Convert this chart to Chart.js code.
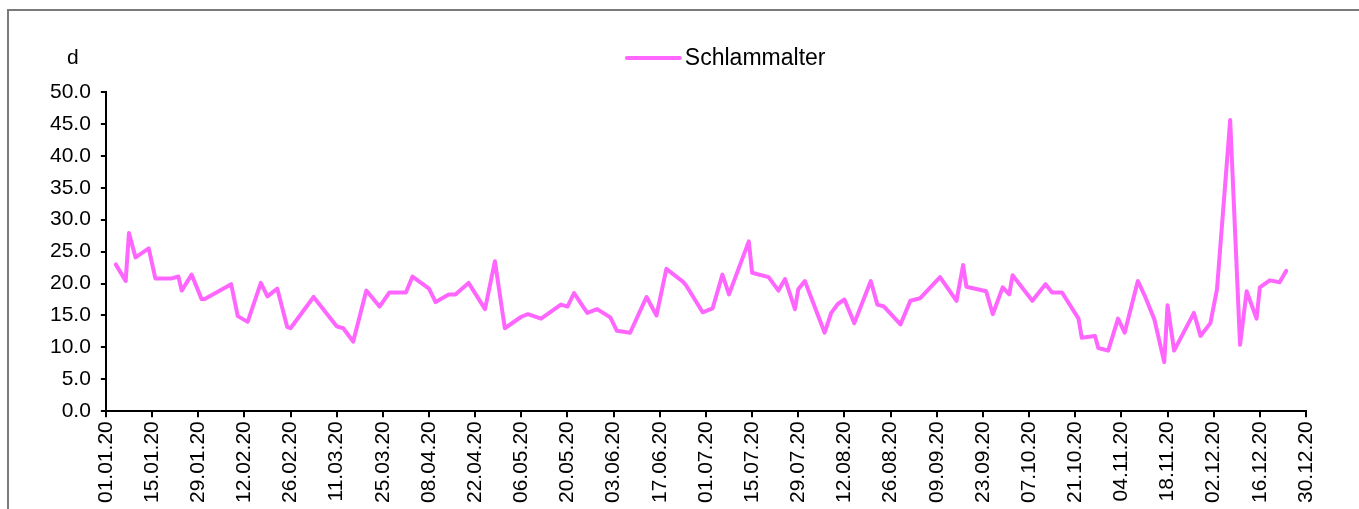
<!DOCTYPE html>
<html>
<head>
<meta charset="utf-8">
<script src="https://cdn.jsdelivr.net/npm/chart.js@4"></script>
<style>
  html, body { margin: 0; padding: 0; background: #fff; overflow: hidden; }
  #frame { position: absolute; left: 7px; top: 9px; width: 1360px; height: 520px; border: 2px solid #7a7a7a; }
  #result { position: absolute; left: 0; top: 0; }
</style>
</head>
<body>
<div id="frame"></div>
<canvas id="result" width="1359" height="509"></canvas>
<script>
// sampling dates (2020) and sludge age in days
const dates = [
  '04.01', '07.01', '08.01', '10.01', '14.01', '16.01', '21.01', '23.01', '24.01', '27.01',
  '30.01', '31.01', '08.02', '10.02', '13.02', '17.02', '19.02', '22.02', '25.02', '26.02',
  '04.03', '11.03', '13.03', '16.03', '20.03', '24.03', '27.03', '01.04', '03.04', '08.04',
  '10.04', '14.04', '16.04', '20.04', '25.04', '28.04', '01.05', '06.05', '08.05', '12.05',
  '18.05', '20.05', '22.05', '26.05', '29.05', '02.06', '04.06', '08.06', '13.06', '16.06',
  '19.06', '24.06', '25.06', '30.06', '03.07', '06.07', '08.07', '14.07', '15.07', '20.07',
  '23.07', '25.07', '28.07', '29.07', '31.07', '06.08', '08.08', '10.08', '12.08', '15.08',
  '20.08', '22.08', '24.08', '29.08', '01.09', '04.09', '10.09', '15.09', '17.09', '18.09',
  '24.09', '26.09', '29.09', '01.10', '02.10', '08.10', '12.10', '14.10', '17.10', '22.10',
  '23.10', '27.10', '28.10', '31.10', '03.11', '05.11', '09.11', '11.11', '14.11', '17.11',
  '18.11', '20.11', '26.11', '28.11', '01.12', '03.12', '07.12', '10.12', '12.12', '15.12',
  '16.12', '19.12', '22.12', '24.12'
]
const schlammalter = [
  23.0, 20.4, 27.9, 24.1, 25.5, 20.8, 20.8, 21.1, 18.9, 21.4,
  17.6, 17.6, 19.9, 14.9, 14.0, 20.1, 18.0, 19.2, 13.2, 13.0,
  17.9, 13.3, 13.0, 10.9, 18.9, 16.4, 18.6, 18.6, 21.1, 19.2,
  17.1, 18.3, 18.3, 20.1, 16.0, 23.5, 13.0, 14.8, 15.2, 14.5,
  16.7, 16.4, 18.5, 15.4, 16.0, 14.7, 12.6, 12.3, 17.9, 15.0,
  22.3, 20.3, 19.7, 15.5, 16.1, 21.4, 18.3, 26.6, 21.7, 21.0,
  18.9, 20.7, 16.0, 19.1, 20.4, 12.3, 15.4, 16.8, 17.5, 13.8,
  20.4, 16.7, 16.4, 13.6, 17.3, 17.7, 21.0, 17.3, 22.9, 19.5,
  18.8, 15.2, 19.4, 18.3, 21.3, 17.3, 19.9, 18.6, 18.6, 14.5,
  11.5, 11.8, 9.9, 9.5, 14.5, 12.3, 20.4, 18.2, 14.4, 7.7,
  16.6, 9.5, 15.4, 11.8, 13.8, 19.1, 45.6, 10.4, 18.8, 14.5,
  19.4, 20.5, 20.2, 22.0
]
const xTickLabels = [
  '01.01.20', '15.01.20', '29.01.20', '12.02.20', '26.02.20', '11.03.20', '25.03.20',
  '08.04.20', '22.04.20', '06.05.20', '20.05.20', '03.06.20', '17.06.20', '01.07.20',
  '15.07.20', '29.07.20', '12.08.20', '26.08.20', '09.09.20', '23.09.20', '07.10.20',
  '21.10.20', '04.11.20', '18.11.20', '02.12.20', '16.12.20', '30.12.20'
]

const pink = '#ff66ff'
const font = { family: "'Liberation Sans', Arial, sans-serif", size: 21 }

// day number counted from 01.01.2020
function dayOf (s) {
  const p = s.split('.')
  return (Date.UTC(2020, +p[1] - 1, +p[0]) - Date.UTC(2020, 0, 1)) / 86400000
}

const tickDays = xTickLabels.map(dayOf)
const points = dates.map((d, i) => ({ x: dayOf(d), y: schlammalter[i] }))

const extras = {
  id: 'extras',
  afterDraw (chart) {
    const ctx = chart.ctx
    const a = chart.chartArea
    ctx.save()
    ctx.font = "21px 'Liberation Sans', Arial, sans-serif"
    ctx.fillStyle = '#000'
    ctx.textBaseline = 'middle'
    ctx.textAlign = 'center'
    ctx.fillText('d', a.left - 33, a.top - 34)
    // legend
    ctx.strokeStyle = pink
    ctx.lineWidth = 4
    ctx.lineCap = 'round'
    ctx.beginPath()
    ctx.moveTo(a.left + 521, a.top - 34)
    ctx.lineTo(a.left + 574, a.top - 34)
    ctx.stroke()
    ctx.font = "23px 'Liberation Sans', Arial, sans-serif"
    ctx.textAlign = 'left'
    ctx.fillText(chart.data.datasets[0].label, a.left + 579, a.top - 33)
    ctx.restore()
  }
}

new Chart(document.getElementById('result').getContext('2d'), {
  type: 'line',
  data: {
    datasets: [{
      label: 'Schlammalter',
      data: points,
      borderColor: pink,
      backgroundColor: pink,
      borderWidth: 4,
      borderJoinStyle: 'round',
      borderCapStyle: 'round',
      pointRadius: 0,
      tension: 0,
      fill: false
    }]
  },
  options: {
    responsive: false,
    animation: false,
    layout: { padding: { top: 92, left: 40, right: 53, bottom: 2 } },
    plugins: { legend: { display: false }, tooltip: { enabled: false } },
    scales: {
      x: {
        type: 'linear',
        min: 0,
        max: 364,
        afterBuildTicks: scale => { scale.ticks = tickDays.map(v => ({ value: v })) },
        ticks: {
          autoSkip: false,
          maxRotation: 90,
          minRotation: 90,
          padding: 4,
          color: '#000',
          font: font,
          callback: v => xTickLabels[tickDays.indexOf(v)]
        },
        grid: { drawOnChartArea: false, color: '#000', lineWidth: 2, tickLength: 6 },
        border: { color: '#000', width: 2 }
      },
      y: {
        min: 0,
        max: 50,
        ticks: {
          stepSize: 5,
          padding: 10,
          color: '#000',
          font: font,
          callback: v => v.toFixed(1)
        },
        grid: { drawOnChartArea: false, color: '#000', lineWidth: 2, tickLength: 5 },
        border: { color: '#000', width: 2 }
      }
    }
  },
  plugins: [extras]
})
</script>
</body>
</html>
